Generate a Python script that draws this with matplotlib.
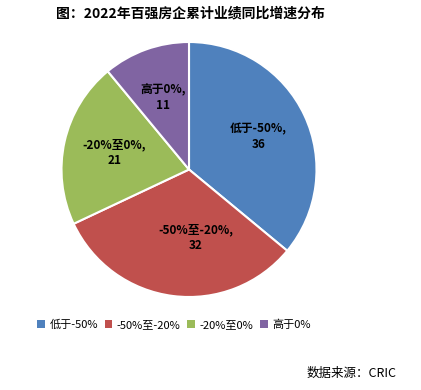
import matplotlib.pyplot as plt
from matplotlib.patches import Patch

plt.rcParams['font.family'] = ['Noto Sans CJK SC', 'DejaVu Sans']

categories = ["低于-50%", "-50%至-20%", "-20%至0%", "高于0%"]
counts = [36, 32, 21, 11]
colors = ["#4F81BD", "#C0504D", "#9BBB59", "#8064A2"]

W, H = 421, 390
fig = plt.figure(figsize=(W / 100, H / 100), dpi=100)
fig.patch.set_facecolor("white")

# pie centre ~ (189, 169.5) px, radius ~127.5 px
cx, cy, r = 189, 169.5, 127.5
ax = fig.add_axes([(cx - r) / W, (H - cy - r) / H, 2 * r / W, 2 * r / H])

labels = [f"{c},\n{n}" for c, n in zip(categories, counts)]
wedges, texts = ax.pie(
    counts,
    colors=colors,
    startangle=90,
    counterclock=False,
    labels=labels,
    labeldistance=0.6,
    radius=1,
    wedgeprops=dict(edgecolor="white", linewidth=1.5),
    textprops=dict(fontsize=8.5, fontweight="bold", ha="center", va="center",
                   linespacing=1.3),
)
for t in texts:
    t.set_horizontalalignment("center")
# Excel nudges the red slice label a bit to the right/up
x, y = texts[1].get_position()
texts[1].set_position((x + 0.13, y + 0.06))
ax.set_xlim(-1, 1)
ax.set_ylim(-1, 1)
ax.set_aspect("equal")
ax.axis("off")

fig.text(190 / W, 1 - 13 / H, "图：2022年百强房企累计业绩同比增速分布",
         ha="center", va="center", fontsize=10, fontweight="bold")

handles = [Patch(facecolor=c, edgecolor="none") for c in colors]
fig.legend(handles, categories, loc="center", bbox_to_anchor=(174 / W, 1 - 325 / H),
           ncol=4, frameon=False, fontsize=8, handlelength=0.7, handleheight=0.7,
           handletextpad=0.4, columnspacing=0.6)

fig.text(352 / W, 1 - 373 / H, "数据来源：CRIC", ha="center", va="center", fontsize=9)

fig.savefig("out.png", dpi=100, facecolor="white")
